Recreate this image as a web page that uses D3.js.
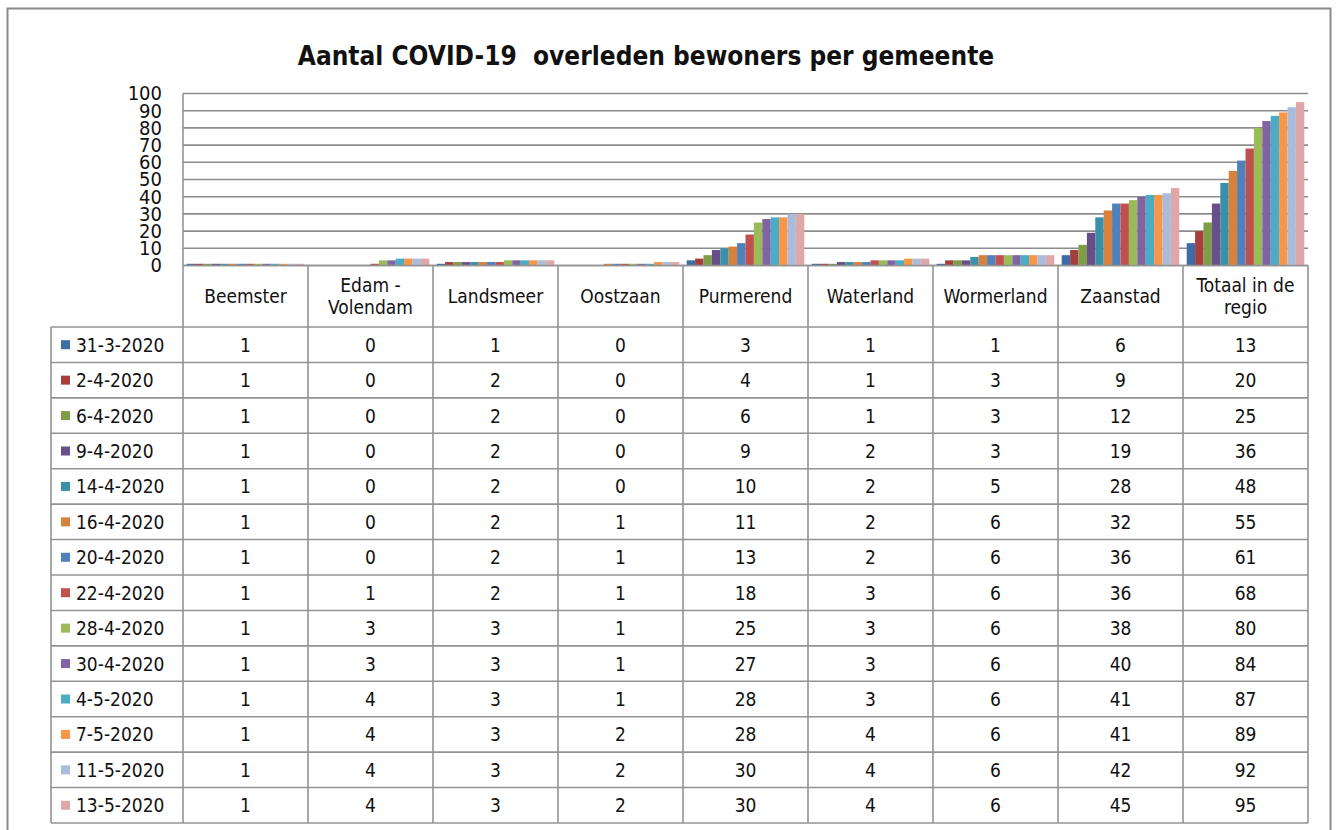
<!DOCTYPE html>
<html><head><meta charset="utf-8">
<script src="https://cdn.jsdelivr.net/npm/d3@7"></script>
<style>html,body{margin:0;padding:0;background:#fff;overflow:hidden}</style>
</head><body>
<svg id="c" width="1343" height="830"></svg>
<script>
const title = "Aantal COVID-19  overleden bewoners per gemeente";
const categories = ["Beemster", "Edam - Volendam", "Landsmeer", "Oostzaan", "Purmerend", "Waterland", "Wormerland", "Zaanstad", "Totaal in de regio"];
const categoryLines = [["Beemster"], ["Edam -", "Volendam"], ["Landsmeer"], ["Oostzaan"], ["Purmerend"], ["Waterland"], ["Wormerland"], ["Zaanstad"], ["Totaal in de", "regio"]];
const dates = ["31-3-2020", "2-4-2020", "6-4-2020", "9-4-2020", "14-4-2020", "16-4-2020", "20-4-2020", "22-4-2020", "28-4-2020", "30-4-2020", "4-5-2020", "7-5-2020", "11-5-2020", "13-5-2020"];
const colors = ["#3d6ca8", "#a63f3c", "#7f9d46", "#684f8a", "#3a90a8", "#d8813a", "#4f81bd", "#c0504d", "#9bbb59", "#8064a2", "#4bacc6", "#f79646", "#a9bcdc", "#dda8a7"];
const v31_3 = [1, 0, 1, 0, 3, 1, 1, 6, 13];
const v2_4  = [1, 0, 2, 0, 4, 1, 3, 9, 20];
const v6_4  = [1, 0, 2, 0, 6, 1, 3, 12, 25];
const v9_4  = [1, 0, 2, 0, 9, 2, 3, 19, 36];
const v14_4 = [1, 0, 2, 0, 10, 2, 5, 28, 48];
const v16_4 = [1, 0, 2, 1, 11, 2, 6, 32, 55];
const v20_4 = [1, 0, 2, 1, 13, 2, 6, 36, 61];
const v22_4 = [1, 1, 2, 1, 18, 3, 6, 36, 68];
const v28_4 = [1, 3, 3, 1, 25, 3, 6, 38, 80];
const v30_4 = [1, 3, 3, 1, 27, 3, 6, 40, 84];
const v4_5  = [1, 4, 3, 1, 28, 3, 6, 41, 87];
const v7_5  = [1, 4, 3, 2, 28, 4, 6, 41, 89];
const v11_5 = [1, 4, 3, 2, 30, 4, 6, 42, 92];
const v13_5 = [1, 4, 3, 2, 30, 4, 6, 45, 95];
const yTicks = [0, 10, 20, 30, 40, 50, 60, 70, 80, 90, 100];

const seriesValues = [v31_3, v2_4, v6_4, v9_4, v14_4, v16_4, v20_4, v22_4, v28_4, v30_4, v4_5, v7_5, v11_5, v13_5];
const series = dates.map((d, i) => ({date: d, color: colors[i], values: seriesValues[i]}));

const FONT = "'DejaVu Sans Condensed', 'DejaVu Sans', sans-serif";
const svg = d3.select("#c");
svg.append("rect").attr("width", 1343).attr("height", 830).attr("fill", "#fff");
svg.append("rect").attr("x", 7.5).attr("y", 8.5).attr("width", 1323).attr("height", 840)
  .attr("fill", "none").attr("stroke", "#8a8a8a").attr("stroke-width", 2);

svg.append("text").attr("x", 646).attr("y", 65).attr("text-anchor", "middle")
  .style("white-space", "pre").attr("font-family", FONT).attr("font-weight", "bold")
  .attr("font-size", 26).attr("fill", "#111").text(title);

const pLeft = 183, pRight = 1308, pTop = 93.5, pBase = 265.5;
const x = d3.scaleBand().domain(categories).range([pLeft, pRight]);
const x1 = d3.scaleBand().domain(dates).range([0, x.bandwidth()]).paddingOuter(0.44);
const y = d3.scaleLinear().domain([0, 100]).range([pBase, pTop]);

// gridlines
svg.append("g").selectAll("line").data(yTicks).join("line")
  .attr("x1", pLeft).attr("x2", pRight).attr("y1", d => y(d)).attr("y2", d => y(d))
  .attr("stroke", "#8c8c8c").attr("stroke-width", 1.6);

// y axis
const yAxis = svg.append("g").attr("transform", `translate(${pLeft},0)`)
  .call(d3.axisLeft(y).tickValues(yTicks).tickSize(0).tickPadding(21));
yAxis.select(".domain").remove();
yAxis.selectAll("text").attr("font-family", FONT).attr("font-size", 20).attr("fill", "#111");

// bars
const g = svg.append("g");
series.forEach(s => {
  g.append("g").selectAll("rect").data(s.values.map((v, i) => ({cat: categories[i], v})))
    .join("rect")
    .attr("x", d => x(d.cat) + x1(s.date))
    .attr("width", x1.bandwidth())
    .attr("y", d => y(d.v))
    .attr("height", d => pBase - y(d.v))
    .attr("fill", s.color);
});

// table
const tblLeft = 51, headBottom = 327, tblBottom = 823;
const rowY = d3.scaleBand().domain(dates).range([headBottom, tblBottom]);
const lineColor = "#939393";
const tg = svg.append("g").attr("stroke", lineColor).attr("stroke-width", 1.6);
tg.append("line").attr("x1", pLeft).attr("x2", pRight).attr("y1", pBase).attr("y2", pBase);
[headBottom, ...dates.map(d => rowY(d) + rowY.bandwidth())].forEach(yy => {
  tg.append("line").attr("x1", tblLeft).attr("x2", pRight).attr("y1", yy).attr("y2", yy);
});
tg.append("line").attr("x1", tblLeft).attr("x2", tblLeft).attr("y1", headBottom).attr("y2", tblBottom);
tg.append("line").attr("x1", pLeft).attr("x2", pLeft).attr("y1", pTop).attr("y2", tblBottom);
categories.forEach(c => {
  const xx = x(c) + x.bandwidth();
  tg.append("line").attr("x1", xx).attr("x2", xx).attr("y1", pBase).attr("y2", tblBottom);
});

// header labels
const hg = svg.append("g").attr("font-family", FONT).attr("font-size", 19).attr("fill", "#111").attr("text-anchor", "middle");
categories.forEach((c, i) => {
  const lines = categoryLines[i];
  const cx = x(c) + x.bandwidth() / 2;
  const cy = (pBase + headBottom) / 2;
  const lh = 22;
  lines.forEach((t, j) => {
    hg.append("text").attr("x", cx).attr("y", cy + (j - (lines.length - 1) / 2) * lh + 7).text(t);
  });
});

// rows
const rg = svg.append("g").attr("font-family", FONT).attr("font-size", 19).attr("fill", "#111");
series.forEach(s => {
  const cy = rowY(s.date) + rowY.bandwidth() / 2;
  rg.append("rect").attr("x", 61).attr("y", cy - 4.5).attr("width", 9).attr("height", 9).attr("fill", s.color);
  rg.append("text").attr("x", 76).attr("y", cy + 7).text(s.date);
  s.values.forEach((v, i) => {
    rg.append("text").attr("x", x(categories[i]) + x.bandwidth() / 2).attr("y", cy + 7)
      .attr("text-anchor", "middle").text(v);
  });
});
</script>
</body></html>
